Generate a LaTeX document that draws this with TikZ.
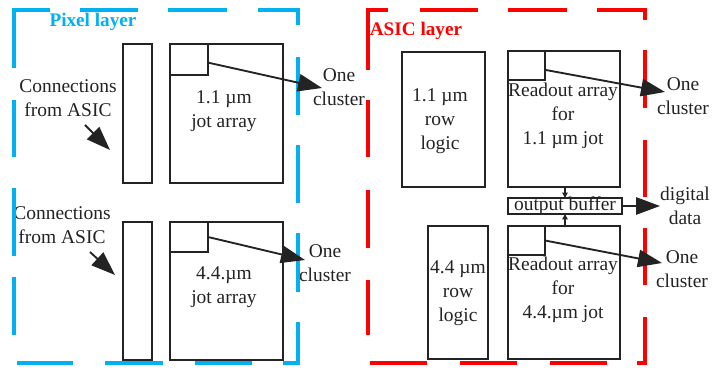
\documentclass[tikz,border=0pt]{standalone}
\usepackage{fontspec}
\setmainfont{Liberation Serif}
\usetikzlibrary{arrows.meta,calc}
\definecolor{pixblue}{RGB}{0,176,240}
\definecolor{asicred}{RGB}{255,0,0}
\definecolor{ink}{RGB}{35,35,35}
\begin{document}
\begin{tikzpicture}[x=0.75pt,y=-0.75pt,
  box/.style={draw=ink,line width=1.4pt,inner sep=0pt,outer sep=0pt,anchor=north west},
  lbl/.style={align=center,font=\fontsize{14.6}{18}\selectfont,inner sep=0pt,text=ink},
  bigarrow/.style={draw=ink,line width=1.4pt,-{Triangle[length=18pt,width=13pt]}},
  tinyarrow/.style={draw=ink,line width=1pt,-{Triangle[length=4pt,width=4pt]}},
  blueseg/.style={pixblue,line width=2.6pt,line join=miter},
  redseg/.style={asicred,line width=2.6pt,line join=miter},
  layerlbl/.style={font=\fontsize{14.4}{18}\selectfont\bfseries,inner sep=0pt}
]
\useasboundingbox (0,0) rectangle (715,370);

% layer labels
\node[layerlbl,text=pixblue] (pixlbl) at (93,22) {Pixel layer};
\node[layerlbl,text=asicred] (asiclbl) at (416,31) {ASIC layer};

% pixel layer boxes
\node[box,minimum width=21.75pt,minimum height=104.25pt] (bar1) at (123,44) {};
\node[box,minimum width=84.75pt,minimum height=104.25pt] (jot1) at (170,44) {};
\node[box,minimum width=28.5pt,minimum height=23.25pt] (sq1) at (170,44) {};
\node[box,minimum width=21.75pt,minimum height=103.5pt] (bar2) at (123,222) {};
\node[box,minimum width=84.75pt,minimum height=103.5pt] (jot2) at (170,222) {};
\node[box,minimum width=28.5pt,minimum height=22.5pt] (sq2) at (170,222) {};

% ASIC layer boxes
\node[box,minimum width=62.25pt,minimum height=101.25pt] (row1) at (402,52) {};
\node[box,minimum width=84pt,minimum height=102pt] (ro1) at (508,51) {};
\node[box,minimum width=27.75pt,minimum height=21.75pt] (sq3) at (508,51) {};
\node[box,minimum width=85.5pt,minimum height=12pt] (buf) at (508,198) {};
\node[box,minimum width=45pt,minimum height=99.75pt] (row2) at (428,226) {};
\node[box,minimum width=84pt,minimum height=99.75pt] (ro2) at (508,226) {};
\node[box,minimum width=27.75pt,minimum height=21.75pt] (sq4) at (508,226) {};

% texts
\node[lbl] (conn1) at (68,98) {Connections\\from ASIC};
\node[lbl] (conn2) at (62,225) {Connections\\from ASIC};
\node[lbl] (jot1t) at (224,111) {1.1 µm\\jot array};
\node[lbl] (jot2t) at (224,287) {4.4.µm\\jot array};
\node[lbl] (oc1) at (339,87) {One\\cluster};
\node[lbl] (oc2) at (325,263) {One\\cluster};
\node[lbl] (row1t) at (440,121) {1.1 µm\\row\\logic};
\node[lbl] (ro1t) at (563,116) {Readout array\\for\\1.1 µm jot};
\node[lbl] (buft) at (buf.center) {output buffer};
\node[lbl] (row2t) at (458,293) {4.4 µm\\row\\logic};
\node[lbl] (ro2t) at (563,290) {Readout array\\for\\4.4.µm jot};
\node[lbl] (oc3) at (683,96) {One\\cluster};
\node[lbl] (dd) at (685,206) {digital\\data};
\node[lbl] (oc4) at (682,269) {One\\cluster};

% arrow end coordinates
\coordinate (t1) at (322,88);
\coordinate (t2) at (305,260);
\coordinate (t3) at (665,92);
\coordinate (t4) at (662,263);
\coordinate (t5) at (660,206);
\coordinate (c1s) at (85,125);
\coordinate (c1e) at (110,150);
\coordinate (c2s) at (90,252);
\coordinate (c2e) at (115,275);

% dashed layer frames
\draw[blueseg] (14,68)--(14,10)--(50,10);
\draw[blueseg] (80,10)--(138,10);
\draw[blueseg] (168,10)--(227,10);
\draw[blueseg] (258,10)--(298,10)--(298,25);
\draw[blueseg] (298,57)--(298,115);
\draw[blueseg] (298,145)--(298,203);
\draw[blueseg] (298,233)--(298,292);
\draw[blueseg] (298,322)--(298,363)--(283,363);
\draw[blueseg] (252,363)--(195,363);
\draw[blueseg] (163,363)--(105,363);
\draw[blueseg] (73,363)--(17,363);
\draw[blueseg] (14,335)--(14,277);
\draw[blueseg] (14,256)--(14,188);
\draw[blueseg] (14,157)--(14,100);

\draw[redseg] (368,70)--(368,10)--(388,10);
\draw[redseg] (420,10)--(478,10);
\draw[redseg] (508,10)--(567,10);
\draw[redseg] (597,10)--(645,10)--(645,20);
\draw[redseg] (645,50)--(645,108);
\draw[redseg] (645,140)--(645,197);
\draw[redseg] (645,228)--(645,285);
\draw[redseg] (645,317)--(645,363)--(637,363);
\draw[redseg] (607,363)--(550,363);
\draw[redseg] (517,363)--(460,363);
\draw[redseg] (427,363)--(370,363);
\draw[redseg] (368,335)--(368,280);
\draw[redseg] (368,248)--(368,190);
\draw[redseg] (368,157)--(368,100);

% arrows
\draw[bigarrow] ($(sq1.north east)!0.6!(sq1.south east)$) -- (t1);
\draw[bigarrow] (sq2.east) -- (t2);
\draw[bigarrow] ($(sq3.north east)!0.65!(sq3.south east)$) -- (t3);
\draw[bigarrow] (sq4.east) -- (t4);
\draw[bigarrow] (buf.east) -- (t5);
\draw[bigarrow] (c1s) -- (c1e);
\draw[bigarrow] (c2s) -- (c2e);
\draw[tinyarrow] (ro1.south -| buf.north) -- (buf.north);
\draw[tinyarrow] (ro2.north -| buf.south) -- (buf.south);
\end{tikzpicture}
\end{document}
